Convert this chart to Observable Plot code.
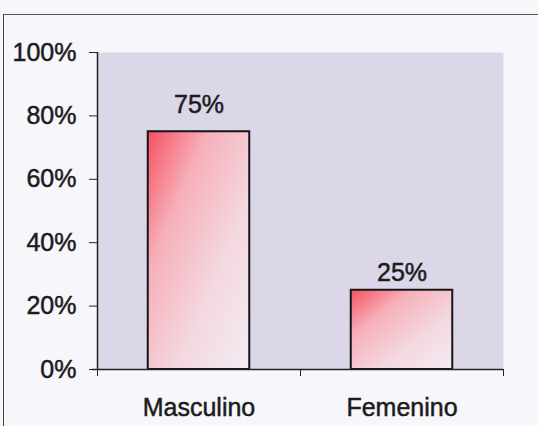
<!DOCTYPE html>
<html>
<head>
<meta charset="utf-8">
<script src="https://cdn.jsdelivr.net/npm/d3@7"></script>
<script src="https://cdn.jsdelivr.net/npm/@observablehq/plot@0.6"></script>
<style>
  html, body { margin: 0; padding: 0; background: #f7f7fb; }
  #wrap { position: relative; width: 538px; height: 426px; overflow: hidden; }
  #border { position: absolute; left: 3px; top: 14px; right: -2px; bottom: -2px;
            border-top: 1.5px solid #555; border-left: 1.5px solid #444; pointer-events: none; }
  svg text { font-family: "Liberation Sans", Arial, sans-serif; stroke: #1c1c1c; stroke-width: 0.5px; }
</style>
</head>
<body>
<div id="wrap"><div id="border"></div></div>
<script>
const categories = ["Masculino", "Femenino"];
const values = [0.75, 0.25];
const yTicks = [0, 0.2, 0.4, 0.6, 0.8, 1.0];

const data = categories.map((c, i) => ({category: c, index: i, value: values[i]}));

const gradientDefs = () => {
  const defs = d3.create("svg:defs");
  const g = defs.append("linearGradient")
    .attr("id", "barGrad")
    .attr("x1", "0").attr("y1", "0").attr("x2", "1").attr("y2", "1");
  g.append("stop").attr("offset", "0%").attr("stop-color", "#f7505f");
  g.append("stop").attr("offset", "30%").attr("stop-color", "#f6b0ba");
  g.append("stop").attr("offset", "65%").attr("stop-color", "#f4d8e0");
  g.append("stop").attr("offset", "100%").attr("stop-color", "#f2ecf3");
  return defs.node();
};

const chart = Plot.plot({
  width: 538,
  height: 426,
  marginLeft: 97,
  marginRight: 35,
  marginTop: 52,
  marginBottom: 57,
  style: {background: "transparent", color: "#1c1c1c", fontFamily: "Liberation Sans, Arial, sans-serif"},
  x: {domain: [0, categories.length], axis: null},
  y: {domain: [0, 1], axis: null},
  marks: [
    gradientDefs,
    Plot.frame({fill: "#dbd7e9", stroke: "none"}),
    Plot.rect(data, {
      x1: d => d.index + 0.25,
      x2: d => d.index + 0.75,
      y1: 0,
      y2: "value",
      fill: "url(#barGrad)",
      stroke: "#161616",
      strokeWidth: 2
    }),
    Plot.ruleX([0], {stroke: "#222", strokeWidth: 1.5}),
    Plot.ruleY([0], {stroke: "#222", strokeWidth: 1.5, insetLeft: -5}),
    Plot.axisY({
      ticks: yTicks,
      tickFormat: d3.format(".0%"),
      tickSize: 8,
      tickPadding: 13,
      fontSize: 25,
      stroke: "#222",
      label: null
    }),
    Plot.axisX({
      ticks: d3.range(categories.length + 1),
      tickFormat: () => "",
      tickSize: 7,
      stroke: "#222",
      label: null
    }),
    Plot.text(data, {
      x: d => d.index + 0.5,
      y: 0,
      text: "category",
      dy: 38,
      fontSize: 25,
      fill: "#1c1c1c"
    }),
    Plot.text(data.filter(d => d.index === 0), {
      x: d => d.index + 0.5,
      y: "value",
      text: d => d3.format(".0%")(d.value),
      dy: -27,
      fontSize: 25,
      fill: "#1c1c1c"
    }),
    Plot.text(data.filter(d => d.index === 1), {
      x: d => d.index + 0.5,
      y: "value",
      text: d => d3.format(".0%")(d.value),
      dy: -17,
      fontSize: 25,
      fill: "#1c1c1c"
    })
  ]
});
document.getElementById("wrap").prepend(chart);
</script>
</body>
</html>
